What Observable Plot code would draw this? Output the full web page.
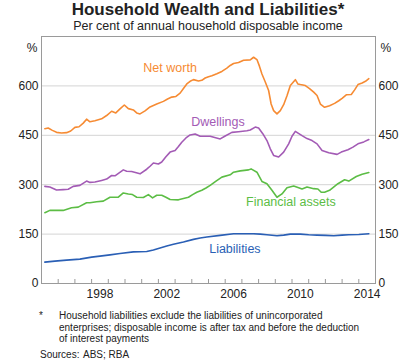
<!DOCTYPE html>
<html>
<head>
<meta charset="utf-8">
<script src="https://cdn.jsdelivr.net/npm/d3@7"></script>
<script src="https://cdn.jsdelivr.net/npm/@observablehq/plot@0.6"></script>
<style>
  html, body { margin: 0; padding: 0; background: #fff; }
  #wrap { position: relative; width: 400px; height: 362px; font-family: Arial, "Liberation Sans", sans-serif; color: #222; }
  #title { position: absolute; left: 0; width: 416px; top: 0; text-align: center; font-weight: bold; font-size: 17px; line-height: 19px; }
  #subtitle { position: absolute; left: 0; width: 416px; top: 19px; text-align: center; font-size: 12.5px; line-height: 15px; }
  #chart { position: absolute; left: 0; top: 30px; }
  .note { position: absolute; font-size: 10px; line-height: 11.5px; }
</style>
</head>
<body>
<div id="wrap">
  <div id="title">Household Wealth and Liabilities*</div>
  <div id="subtitle">Per cent of annual household disposable income</div>
  <div id="chart"></div>
  <div class="note" style="left:39px; top:310px;">*</div>
  <div class="note" style="left:59px; top:310px; width:305px;">Household liabilities exclude the liabilities of unincorporated enterprises; disposable income is after tax and before the deduction of interest payments</div>
  <div class="note" style="left:40px; top:349px;">Sources:</div>
  <div class="note" style="left:83px; top:349px;">ABS; RBA</div>
</div>
<script>
// ---- data ----
const netWorthYears = [1995.2,1995.4,1995.65,1995.9,1996.2,1996.5,1996.75,1997.0,1997.25,1997.5,1997.7,1997.9,1998.2,1998.6,1998.9,1999.2,1999.45,1999.7,1999.96,2000.2,2000.5,2000.7,2000.9,2001.2,2001.5,2001.9,2002.3,2002.55,2002.8,2003.05,2003.3,2003.5,2003.7,2003.9,2004.1,2004.4,2004.6,2004.8,2005.0,2005.2,2005.5,2005.8,2006.1,2006.3,2006.5,2006.8,2007.1,2007.5,2007.7,2007.9,2008.05,2008.2,2008.4,2008.6,2008.75,2008.9,2009.1,2009.3,2009.5,2009.7,2009.9,2010.2,2010.35,2010.5,2010.8,2011.05,2011.3,2011.5,2011.7,2011.95,2012.25,2012.55,2012.8,2013.0,2013.25,2013.55,2013.75,2013.95,2014.2,2014.4,2014.6];
const netWorthValues = [470,472,465,459,457,458,463,474,476,487,499,491,494,500,510,523,518,530,542,531,527,518,515,524,536,545,553,560,566,568,578,592,606,614,619,615,617,624,628,631,637,644,654,662,668,671,678,679,687,680,660,636,612,586,545,525,515,525,543,570,601,619,606,604,601,592,581,571,545,535,540,547,555,562,573,574,588,604,609,614,622];

const dwellingsYears = [1995.2,1995.5,1995.9,1996.3,1996.6,1996.9,1997.3,1997.7,1997.9,1998.2,1998.6,1998.9,1999.2,1999.4,1999.65,1999.9,2000.1,2000.4,2000.9,2001.3,2001.5,2001.7,2002.0,2002.2,2002.45,2002.7,2003.0,2003.2,2003.4,2003.65,2003.9,2004.2,2004.5,2005.1,2005.7,2006.0,2006.4,2006.8,2007.3,2007.5,2007.8,2008.0,2008.25,2008.5,2008.7,2008.9,2009.2,2009.5,2009.8,2010.0,2010.2,2010.6,2010.9,2011.2,2011.5,2011.8,2012.2,2012.7,2012.95,2013.35,2013.65,2013.95,2014.3,2014.6];
const dwellingsValues = [295,293,284,285,286,295,298,311,307,308,313,317,328,327,336,345,341,340,333,347,356,366,363,369,385,399,404,416,429,442,451,454,447,447,439,448,459,461,464,466,475,472,455,434,409,389,384,399,424,447,462,449,440,434,424,404,397,392,399,406,414,424,430,437];

const financialYears = [1995.2,1995.5,1995.9,1996.3,1996.8,1997.2,1997.7,1997.9,1998.3,1998.7,1999.1,1999.6,1999.9,2000.2,2000.45,2000.7,2001.1,2001.4,2001.65,2001.9,2002.2,2002.45,2002.7,2003.2,2003.5,2003.8,2004.05,2004.3,2004.6,2004.85,2005.1,2005.45,2005.8,2006.3,2006.5,2006.9,2007.4,2007.55,2007.9,2008.2,2008.5,2008.8,2009.1,2009.4,2009.7,2010.1,2010.4,2010.6,2010.9,2011.3,2011.55,2011.75,2011.95,2012.25,2012.75,2013.15,2013.4,2013.85,2014.2,2014.6];
const financialValues = [215,222,222,222,230,232,245,245,248,250,262,262,275,272,270,262,261,270,260,268,268,262,255,254,258,262,270,277,283,290,298,311,323,330,338,342,345,348,338,310,303,283,262,272,291,296,291,287,293,288,287,277,277,283,303,315,311,325,332,337];

const liabilitiesYears = [1995.2,1995.8,1996.5,1997.3,1998.0,1998.5,1999.1,1999.7,2000.5,2001.3,2001.7,2002.1,2002.5,2002.9,2003.5,2004.1,2004.5,2004.9,2005.7,2006.5,2007.1,2007.7,2008.1,2008.5,2009.1,2009.5,2009.9,2010.5,2011.0,2011.5,2012.0,2012.5,2013.0,2013.4,2014.0,2014.6];
const liabilitiesValues = [65,68,71,74,80,83,87,91,96,97,102,108,114,119,126,134,138,141,146,151,151,151,150,148,145,147,150,150,148,147,146,145,147,148,149,151];

const yTicks = [0,150,300,450,600];
const gridValues = [150,300,450,600];
const tickYears = d3.range(1996, 2015);
const labelYears = [1998,2002,2006,2010,2014];

const seriesNames = ["Net worth","Dwellings","Financial assets","Liabilities"];
const seriesColors = ["#f68b33","#a35bb5","#5cbd45","#2a5fb5"];
const labelYearsPos = [2002.7, 2005.57, 2009.93, 2006.58];
const labelValuesPos = [655, 489, 246, 104];

// ---- build ----
const toRows = (name, xs, ys) => xs.map((x, i) => ({series: name, year: x, value: ys[i]}));
const rows = [
  ...toRows(seriesNames[0], netWorthYears, netWorthValues),
  ...toRows(seriesNames[1], dwellingsYears, dwellingsValues),
  ...toRows(seriesNames[2], financialYears, financialValues),
  ...toRows(seriesNames[3], liabilitiesYears, liabilitiesValues)
];
const labels = seriesNames.map((s, i) => ({series: s, year: labelYearsPos[i], value: labelValuesPos[i]}));

const chart = Plot.plot({
  width: 400,
  height: 273,
  marginTop: 6,
  marginBottom: 20,
  marginLeft: 41,
  marginRight: 25,
  style: {fontFamily: "Arial, 'Liberation Sans', sans-serif", fontSize: "12px", color: "#222", background: "transparent"},
  x: {domain: [1995, 2015], axis: null},
  y: {domain: [0, 750], axis: null},
  color: {domain: seriesNames, range: seriesColors},
  marks: [
    Plot.ruleY(gridValues, {stroke: "#d4d4d4", strokeWidth: 1}),
    Plot.axisY(yTicks, {anchor: "left", tickSize: 0, tickPadding: 3, label: null, fontSize: 12, fill: "#222"}),
    Plot.axisY(yTicks, {anchor: "right", tickSize: 0, tickPadding: 3, label: null, fontSize: 12, fill: "#222"}),
    Plot.text(["%"], {frameAnchor: "top-left", textAnchor: "end", dx: -4, dy: 7, fontSize: 12, fill: "#222"}),
    Plot.text(["%"], {frameAnchor: "top-right", textAnchor: "start", dx: 5, dy: 7, fontSize: 12, fill: "#222"}),
    Plot.axisX(tickYears, {anchor: "bottom", tickSize: -4, tickFormat: () => "", label: null, stroke: "#999"}),
    Plot.text(labelYears, {x: d => d + 0.5, frameAnchor: "bottom", dy: 14, text: d => String(d), fontSize: 12, fill: "#222"}),
    Plot.line(rows, {x: "year", y: "value", z: "series", stroke: "series", strokeWidth: 1.6}),
    Plot.text(labels, {x: "year", y: "value", text: "series", fill: "series", fontSize: 12.5}),
    Plot.frame({stroke: "#9a9a9a", strokeWidth: 1})
  ]
});
document.getElementById("chart").appendChild(chart);
</script>
</body>
</html>
